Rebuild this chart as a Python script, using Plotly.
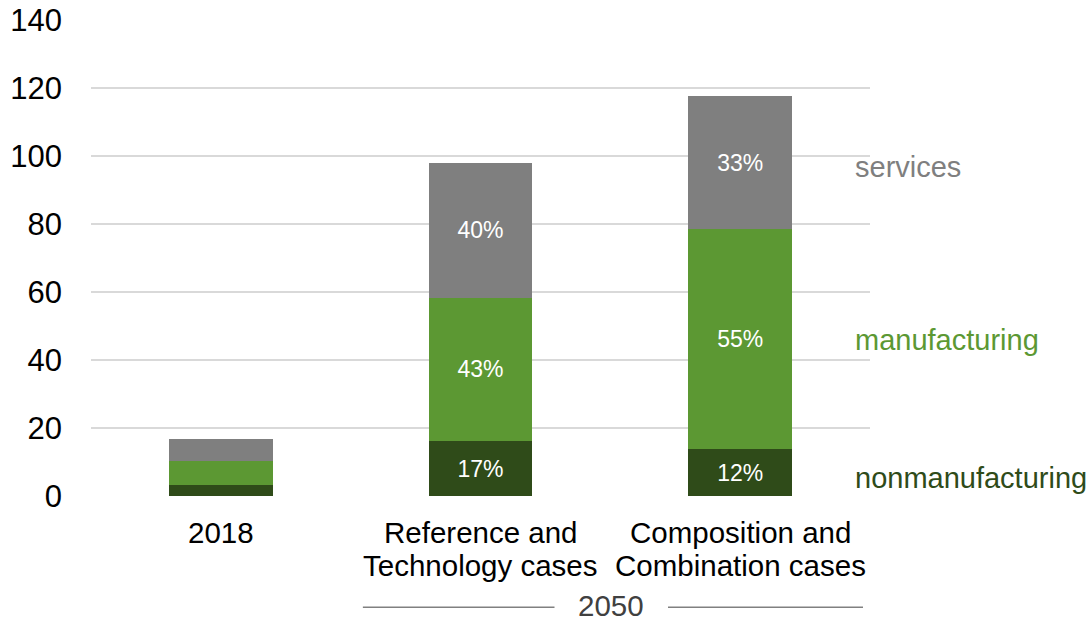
import plotly.graph_objects as go

# Scenario columns (each split into the lines shown under the axis)
category_lines = [
    ["2018"],
    ["Reference and", "Technology cases"],
    ["Composition and", "Combination cases"],
]
categories = [" ".join(lines) for lines in category_lines]

# Stacked sector values, one list per sector
nonmanufacturing = [3.4, 16.4, 14.1]
manufacturing = [7.0, 42.1, 64.5]
services = [6.4, 39.5, 39.2]
show_share = [False, True, True]

sectors = [
    ("nonmanufacturing", nonmanufacturing, "#2f4b19"),
    ("manufacturing", manufacturing, "#5c9833"),
    ("services", services, "#7f7f7f"),
]
totals = [a + b + c for a, b, c in zip(nonmanufacturing, manufacturing, services)]

FONT = "Liberation Sans, Arial"

fig = go.Figure()
for name, vals, color in sectors:
    labels = [
        f"{round(100 * v / t)}%" if show else ""
        for v, t, show in zip(vals, totals, show_share)
    ]
    fig.add_trace(go.Bar(
        x=categories, y=vals, name=name,
        marker=dict(color=color, line=dict(width=0)),
        text=labels, textposition="inside", insidetextanchor="middle",
        textfont=dict(color="white", size=23, family=FONT),
        textangle=0, constraintext="none",
    ))

# Category labels under the axis, one annotation per text line
# (positioned by category index on the category axis)
line_y = [-0.074, -0.1435]
for idx, lines in enumerate(category_lines):
    for i, line in enumerate(lines):
        fig.add_annotation(
            x=idx, xref="x", y=line_y[i], yref="paper", text=line, showarrow=False,
            xanchor="center", yanchor="middle",
            font=dict(size=29.5, color="#000000", family=FONT),
        )

# Sector names beside the stacks
side_labels = [
    ("services", 97, "#7f7f7f"),
    ("manufacturing", 46, "#5c9833"),
    ("nonmanufacturing", 5.5, "#2f4b19"),
]
for text, yv, color in side_labels:
    fig.add_annotation(
        x=0.978, xref="paper", y=yv, yref="y", text=text, showarrow=False,
        xanchor="left", yanchor="middle",
        font=dict(size=29, color=color, family=FONT),
    )

# "2050" bracket under the two projection columns
fig.add_annotation(
    x=0.6675, xref="paper", y=-0.2285, yref="paper", text="2050", showarrow=False,
    xanchor="center", yanchor="middle",
    font=dict(size=29.5, color="#404040", family=FONT),
)
for x0, x1 in [(0.349, 0.595), (0.7407, 0.991)]:
    fig.add_shape(type="line", xref="paper", yref="paper", x0=x0, x1=x1,
                  y0=-0.2313, y1=-0.2313, line=dict(color="#808080", width=1.5))

fig.update_layout(
    barmode="stack", bargap=0.6, showlegend=False,
    width=1089, height=622,
    margin=dict(l=91, r=219, t=20, b=125, pad=0),
    plot_bgcolor="white", paper_bgcolor="white",
    font=dict(family=FONT, color="#000000"),
)
fig.update_yaxes(
    range=[-0.15, 140.1], tickvals=[0, 20, 40, 60, 80, 100, 120, 140],
    showgrid=True, gridcolor="#d9d9d9", gridwidth=1.5,
    zeroline=False, showline=False, ticks="", ticklabelstandoff=28,
    tickfont=dict(size=31, color="#000000"), automargin=False,
)
fig.update_xaxes(
    type="category", categoryorder="array", categoryarray=categories,
    range=[-0.5, len(categories) - 0.5],
    showline=False, ticks="", showticklabels=False, showgrid=False,
    automargin=False,
)

fig.write_html("out.html")
